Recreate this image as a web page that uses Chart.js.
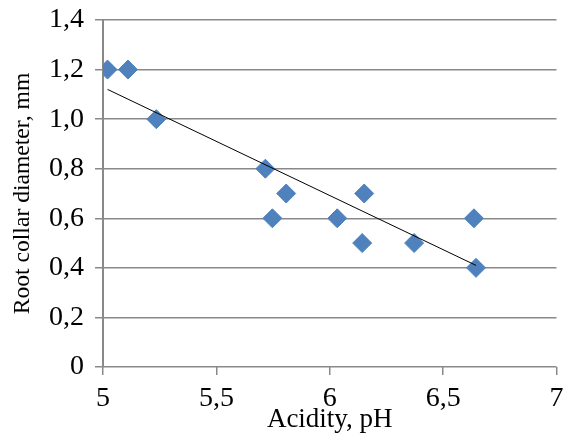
<!DOCTYPE html>
<html>
<head>
<meta charset="utf-8">
<script src="https://cdn.jsdelivr.net/npm/chart.js@4"></script>
<style>
  body { margin: 0; background: #fff; }
</style>
</head>
<body>
<canvas id="chart" width="567" height="441"></canvas>
<script>
/********** DATA **********/
const phValues = [5.02, 5.11, 5.235, 5.716, 5.808, 5.747, 6.033, 6.152, 6.143, 6.372, 6.636, 6.645];
const diameterValues = [1.2, 1.2, 1.0, 0.8, 0.7, 0.6, 0.6, 0.7, 0.5, 0.5, 0.6, 0.4];

const trendX = [5.02, 6.645];
const trendY = [1.12, 0.41];

const xTickValues = [5, 5.5, 6, 6.5, 7];
const xTickLabels = ["5", "5,5", "6", "6,5", "7"];
const yTickValues = [0, 0.2, 0.4, 0.6, 0.8, 1.0, 1.2, 1.4];
const yTickLabels = ["0", "0,2", "0,4", "0,6", "0,8", "1,0", "1,2", "1,4"];

/********** STYLE **********/
const FONT = "'Liberation Serif', 'Times New Roman', serif";
const GRID = '#898989';

function labelFor(values, labels, v) {
  const i = values.findIndex(t => Math.abs(t - v) < 1e-6);
  return i >= 0 ? labels[i] : '';
}

const points = phValues.map((x, i) => ({ x: x, y: diameterValues[i] }));
const trend = trendX.map((x, i) => ({ x: x, y: trendY[i] }));

new Chart(document.getElementById('chart'), {
  type: 'scatter',
  data: {
    datasets: [
      {
        label: 'trend',
        data: trend,
        showLine: true,
        borderColor: '#000',
        borderWidth: 1,
        pointRadius: 0,
        order: 0
      },
      {
        label: 'data',
        data: points,
        pointStyle: 'rectRot',
        pointRadius: 9.5,
        backgroundColor: '#4F81BD',
        borderColor: '#4F81BD',
        borderWidth: 1,
        order: 1
      }
    ]
  },
  options: {
    responsive: false,
    animation: false,
    layout: { padding: { top: 20, right: 9, left: 0, bottom: 0 } },
    plugins: { legend: { display: false }, tooltip: { enabled: false } },
    scales: {
      x: {
        type: 'linear',
        min: 5,
        max: 7,
        afterBuildTicks: s => { s.ticks = xTickValues.map(v => ({ value: v })); },
        afterFit: s => { s.height = 74; s.paddingLeft = 0; s.paddingRight = 0; },
        grid: { drawOnChartArea: false, drawTicks: true, tickLength: 8, color: GRID, lineWidth: 1.5 },
        border: { display: false },
        ticks: {
          color: '#000',
          font: { family: FONT, size: 28 },
          padding: 7,
          maxRotation: 0,
          callback: v => labelFor(xTickValues, xTickLabels, v)
        },
        title: {
          display: true,
          text: 'Acidity, pH',
          color: '#000',
          font: { family: FONT, size: 27 },
          padding: { top: 0, bottom: 5 }
        }
      },
      y: {
        type: 'linear',
        min: 0,
        max: 1.4,
        afterBuildTicks: s => { s.ticks = yTickValues.map(v => ({ value: v })); },
        afterFit: s => { s.width = 103; s.paddingTop = 0; s.paddingBottom = 0; },
        grid: { drawTicks: true, tickLength: 8, color: GRID, lineWidth: 1.5 },
        border: { display: true, color: GRID, width: 2 },
        ticks: {
          color: '#000',
          font: { family: FONT, size: 28 },
          padding: 11,
          callback: v => labelFor(yTickValues, yTickLabels, v)
        },
        title: {
          display: true,
          text: 'Root collar diameter, mm',
          color: '#000',
          font: { family: FONT, size: 23.6 },
          padding: { top: 9, bottom: 0 }
        }
      }
    }
  }
});
</script>
</body>
</html>
